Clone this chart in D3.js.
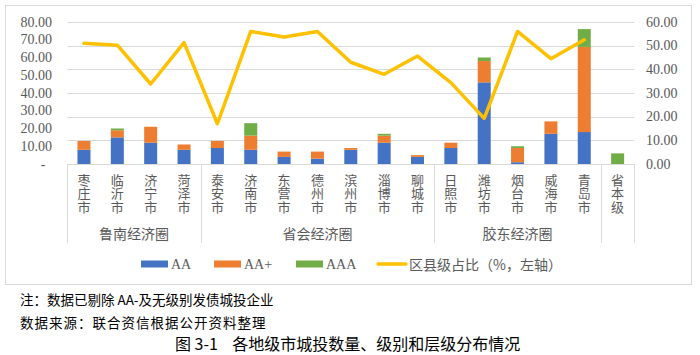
<!DOCTYPE html>
<html><head><meta charset="utf-8">
<script src="https://cdn.jsdelivr.net/npm/d3@7"></script>
<style>
html,body{margin:0;padding:0;background:#fff;}
svg{display:block;}
</style></head>
<body>
<svg id="chart" width="700" height="355"></svg>
<script>
const categories = ["枣庄市","临沂市","济宁市","菏泽市","泰安市","济南市","东营市","德州市","滨州市","淄博市","聊城市","日照市","潍坊市","烟台市","威海市","青岛市","省本级"];
const groupNames = ["鲁南经济圈","省会经济圈","胶东经济圈",""];
const groupSizes = [4,7,5,1];
const seriesAA     = [8,15,12,8,9,8,4,3,8,12,4,9,46,1,17,18,0];
const seriesAAplus = [5,4,9,3,4,8,3,4,1,4,1,3,12,8,7,48,0];
const seriesAAA    = [0,1,0,0,0,7,0,0,0,1,0,0,2,1,0,10,6];
const ratio = [51.0,50.2,33.8,51.3,17.0,56.0,53.7,56.0,43.0,37.9,45.6,34.4,19.3,56.0,44.5,52.5,null];
const leftTicks = [0,10,20,30,40,50,60,70,80];
const rightTicks = [0,10,20,30,40,50,60];
const seriesNames = ["AA","AA+","AAA"];
const lineName = "区县级占比（%，左轴）";
const colors = {AA:"#4472C4","AA+":"#ED7D31",AAA:"#70AD47",line:"#FFC000"};

const svg = d3.select("#chart");
const serif = "'Liberation Serif','Times New Roman',serif";
const cjk = "'Noto Sans CJK SC','Noto Sans',sans-serif";
const gray = "#595959";
const plot = {left:67.3, right:634.3, top:22, bottom:164};

// border
svg.append("rect").attr("x",5.5).attr("y",5.5).attr("width",686).attr("height",279)
  .attr("fill","none").attr("stroke","#d9d9d9").attr("stroke-width",1);

const x = d3.scaleBand().domain(categories).range([plot.left, plot.right]).paddingInner(0).paddingOuter(0);
const yL = d3.scaleLinear().domain([0,80]).range([plot.bottom, plot.top]);
const yR = d3.scaleLinear().domain([0,60]).range([plot.bottom, plot.top]);

// gridlines (right axis)
svg.append("g").selectAll("line").data(rightTicks.filter(d=>d>0)).join("line")
  .attr("x1",plot.left).attr("x2",plot.right)
  .attr("y1",d=>Math.round(yR(d))+0.5).attr("y2",d=>Math.round(yR(d))+0.5)
  .attr("stroke","#d9d9d9").attr("stroke-width",1);

// left axis labels
const gl = svg.append("g").attr("font-family",serif).attr("font-size",14).attr("fill",gray);
gl.selectAll("text").data(leftTicks).join("text")
  .attr("x",d=>d===0?43:52).attr("y",d=>yL(d))
  .attr("text-anchor",d=>d===0?"middle":"end").attr("dominant-baseline","central")
  .text(d=>d===0?"-":d3.format(".2f")(d));

// right axis labels
const gr = svg.append("g").attr("font-family",serif).attr("font-size",14).attr("fill",gray);
gr.selectAll("text").data(rightTicks).join("text")
  .attr("x",646).attr("y",d=>yR(d))
  .attr("text-anchor","start").attr("dominant-baseline","central")
  .text(d=>d3.format(".2f")(d));

// stacked bars
const table = categories.map((c,i)=>({cat:c, "AA":seriesAA[i], "AA+":seriesAAplus[i], "AAA":seriesAAA[i]}));
const stack = d3.stack().keys(seriesNames)(table);
const bw = 13;
svg.append("g").selectAll("g").data(stack).join("g")
  .attr("fill",d=>colors[d.key])
  .selectAll("rect").data(d=>d.filter(p=>p[1]-p[0]>0)).join("rect")
  .attr("x",d=>x(d.data.cat)+x.bandwidth()/2-bw/2)
  .attr("width",bw)
  .attr("y",d=>yL(d[1]))
  .attr("height",d=>yL(d[0])-yL(d[1]));

// baseline
svg.append("line").attr("x1",plot.left).attr("x2",plot.right)
  .attr("y1",plot.bottom+0.5).attr("y2",plot.bottom+0.5).attr("stroke","#d9d9d9");

// line
const lineData = categories.map((c,i)=>({cat:c, v:ratio[i]}));
svg.append("path").datum(lineData)
  .attr("fill","none").attr("stroke",colors.line).attr("stroke-width",3.5)
  .attr("stroke-linejoin","round").attr("stroke-linecap","round")
  .attr("d",d3.line().defined(d=>d.v!=null).x(d=>x(d.cat)+x.bandwidth()/2).y(d=>yR(d.v)));

// group separators
let idx = 0;
const bounds = [0];
groupSizes.forEach(n=>{idx+=n; bounds.push(idx);});
const sepX = bounds.map(b=> b<categories.length ? x(categories[b]) : plot.right);
svg.append("g").selectAll("line").data(sepX).join("line")
  .attr("x1",d=>Math.round(d)+0.5).attr("x2",d=>Math.round(d)+0.5)
  .attr("y1",plot.bottom).attr("y2",243)
  .attr("stroke","#d9d9d9");

// category labels (vertical, one text each)
const gc = svg.append("g").attr("font-family",cjk).attr("font-size",13).attr("fill",gray);
gc.selectAll("text").data(categories).join("text")
  .attr("x",c=>x(c)+x.bandwidth()/2).attr("y",173.5)
  .style("writing-mode","vertical-rl")
  .attr("letter-spacing",0.5)
  .attr("text-anchor","start")
  .text(c=>c);

// group labels
const gg = svg.append("g").attr("font-family",cjk).attr("font-size",14).attr("fill",gray);
groupNames.forEach((g,i)=>{
  if(!g) return;
  const mid = (sepX[i]+sepX[i+1])/2;
  gg.append("text").attr("x",mid).attr("y",233).attr("text-anchor","middle")
    .attr("dominant-baseline","central").text(g);
});

// legend
const ly = 264;
const leg = svg.append("g");
const legItems = [
  {key:"AA", x0:141, font:serif},
  {key:"AA+", x0:214, font:serif},
  {key:"AAA", x0:296, font:serif}
];
legItems.forEach(it=>{
  leg.append("rect").attr("x",it.x0).attr("y",ly-3.5).attr("width",27).attr("height",7).attr("fill",colors[it.key]);
  leg.append("text").attr("x",it.x0+30).attr("y",ly).attr("dominant-baseline","central")
    .attr("font-family",it.font).attr("font-size",14).attr("fill",gray).text(it.key);
});
leg.append("line").attr("x1",378).attr("x2",406).attr("y1",ly).attr("y2",ly)
  .attr("stroke",colors.line).attr("stroke-width",3.5).attr("stroke-linecap","round");
leg.append("text").attr("x",409).attr("y",ly).attr("dominant-baseline","central")
  .attr("font-family",cjk).attr("font-size",14).attr("fill",gray).text(lineName);

// notes & title
svg.append("text").attr("x",20).attr("y",299).attr("dominant-baseline","central")
  .attr("font-family",cjk).attr("font-size",13.5).attr("fill","#000")
  .text("注：数据已剔除 AA-及无级别发债城投企业");
svg.append("text").attr("x",20).attr("y",322).attr("dominant-baseline","central")
  .attr("font-family",cjk).attr("font-size",13.5).attr("fill","#000").attr("letter-spacing",1)
  .text("数据来源：联合资信根据公开资料整理");
svg.append("text").attr("x",175).attr("y",343).attr("dominant-baseline","central")
  .attr("text-anchor","start").attr("font-family",cjk).attr("font-size",16).attr("fill","#000")
  .style("white-space","pre")
  .text("图 3-1    各地级市城投数量、级别和层级分布情况");
</script>
</body></html>
